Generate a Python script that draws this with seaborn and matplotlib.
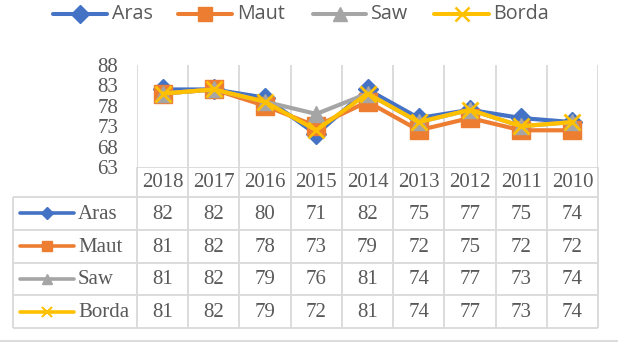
import matplotlib
matplotlib.use("Agg")
import matplotlib.pyplot as plt
from matplotlib.lines import Line2D
import seaborn as sns
import numpy as np

# Data: yearly scores for four ranking methods
years = ["2018", "2017", "2016", "2015", "2014", "2013", "2012", "2011", "2010"]
aras = [82, 82, 80, 71, 82, 75, 77, 75, 74]
maut = [81, 82, 78, 73, 79, 72, 75, 72, 72]
saw = [81, 82, 79, 76, 81, 74, 77, 73, 74]
borda = [81, 82, 79, 72, 81, 74, 77, 73, 74]
series_names = ["Aras", "Maut", "Saw", "Borda"]
y_ticks = [63, 68, 73, 78, 83, 88]

series_values = [aras, maut, saw, borda]
colors = ["#4472C4", "#ED7D31", "#A5A5A5", "#FFC000"]
markers = ["D", "s", "^", "x"]
plot_msize = [10, 12.5, 11, 12]
leg_msize = [9, 10, 10, 10]
key_msize = [6, 7.5, 7, 7]

sns.set_style("white")
plt.rcParams["font.family"] = ["Liberation Serif", "DejaVu Serif"]

TXT = "#595959"
GRID = "#D9D9D9"
W, H = 618, 343

fig = plt.figure(figsize=(W / 100, H / 100), dpi=100)

# pixel layout helpers
def fx(px):
    return px / W

def fy(py):
    return 1 - py / H

plot_l, plot_r = 137, 598
plot_t, plot_b = 65, 167
table_l, table_b = 13, 328

n = len(years)
xpos = np.arange(n)

# ---- line chart ----
ax = fig.add_axes([fx(plot_l), fy(plot_b), fx(plot_r - plot_l), (plot_b - plot_t) / H])
for name, vals, c, m, ms in zip(series_names, series_values, colors, markers, plot_msize):
    sns.lineplot(x=xpos, y=vals, ax=ax, color=c, marker=m, markersize=ms,
                 markeredgecolor=c, markeredgewidth=2.0 if m == "x" else 1,
                 linewidth=3.0, sort=False, label=None)
ax.set_xlim(-0.5, n - 0.5)
ax.set_ylim(y_ticks[0], y_ticks[-1])
ax.set_yticks(y_ticks)
ax.set_yticklabels([str(t) for t in y_ticks], fontsize=15, color=TXT)
ax.set_xticks([])
ax.tick_params(axis="y", length=0, pad=13.5)
for s in ax.spines.values():
    s.set_visible(False)
ax.vlines(np.arange(n + 1) - 0.5, y_ticks[0], y_ticks[-1], color=GRID, lw=1.3, zorder=0)
ax.set_facecolor("none")
if ax.get_legend():
    ax.get_legend().remove()

# ---- data table ----
col_w = (plot_r - plot_l) / n
x0 = -0.5 - (plot_l - table_l) / col_w
hh = 30 / 32.75  # header row height relative to data rows
nrows = len(series_names)
tax = fig.add_axes([fx(table_l), fy(table_b), fx(plot_r - table_l), (table_b - plot_b) / H])
tax.set_xlim(x0, n - 0.5)
tax.set_ylim(hh + nrows, 0)
tax.axis("off")

lw = 1.3
tax.hlines(0, -0.5, n - 0.5, color=GRID, lw=lw)
for i in range(nrows + 1):
    tax.hlines(hh + i, x0, n - 0.5, color=GRID, lw=lw, clip_on=False)
for k in range(n + 1):
    tax.vlines(k - 0.5, 0, hh + nrows, color=GRID, lw=lw, clip_on=False)
tax.vlines(x0, hh, hh + nrows, color=GRID, lw=lw, clip_on=False)

for k, yr in enumerate(years):
    tax.text(k, hh / 2 + 0.03, yr, ha="center", va="center", fontsize=15, color=TXT)

label_w = -0.5 - x0
key_a = x0 + label_w * (7 / 124)
key_b = x0 + label_w * (61 / 124)
key_t = x0 + label_w * (65 / 124)
for i, (name, vals, c, m, ms) in enumerate(zip(series_names, series_values, colors, markers, key_msize)):
    yc = hh + i + 0.5
    tax.plot([key_a, key_b], [yc, yc], color=c, lw=2.6, clip_on=False,
             solid_capstyle="round")
    tax.plot([(key_a + key_b) / 2], [yc], color=c, marker=m, markersize=ms,
             markeredgecolor=c, markeredgewidth=1.5 if m == "x" else 1, clip_on=False)
    tax.text(key_t, yc + 0.03, name, ha="left", va="center", fontsize=15, color=TXT)
    for k, v in enumerate(vals):
        tax.text(k, yc + 0.03, str(v), ha="center", va="center", fontsize=15, color=TXT)

# ---- top legend (key line, marker, label per series) ----
leg_keys = [(53, 107, 112), (178, 232, 237), (313, 366, 371), (434, 489, 493)]
leg_y = fy(14)
for name, c, m, ms, (a, b, t) in zip(series_names, colors, markers, leg_msize, leg_keys):
    fig.add_artist(Line2D([fx(a), fx(b)], [leg_y, leg_y], transform=fig.transFigure,
                          color=c, lw=2.9, solid_capstyle="round"))
    fig.add_artist(Line2D([fx((a + b) / 2)], [leg_y], transform=fig.transFigure,
                          color=c, marker=m, markersize=ms, markeredgecolor=c,
                          markeredgewidth=1.8 if m == "x" else 1))
    fig.text(fx(t), leg_y, name, ha="left", va="center", color=TXT,
             family="Open Sans", fontsize=14.2)

# bottom border of the chart area
fig.add_artist(Line2D([0, 1], [fy(341), fy(341)], transform=fig.transFigure, color=GRID, lw=1.3))

fig.savefig("out.png", dpi=100)
